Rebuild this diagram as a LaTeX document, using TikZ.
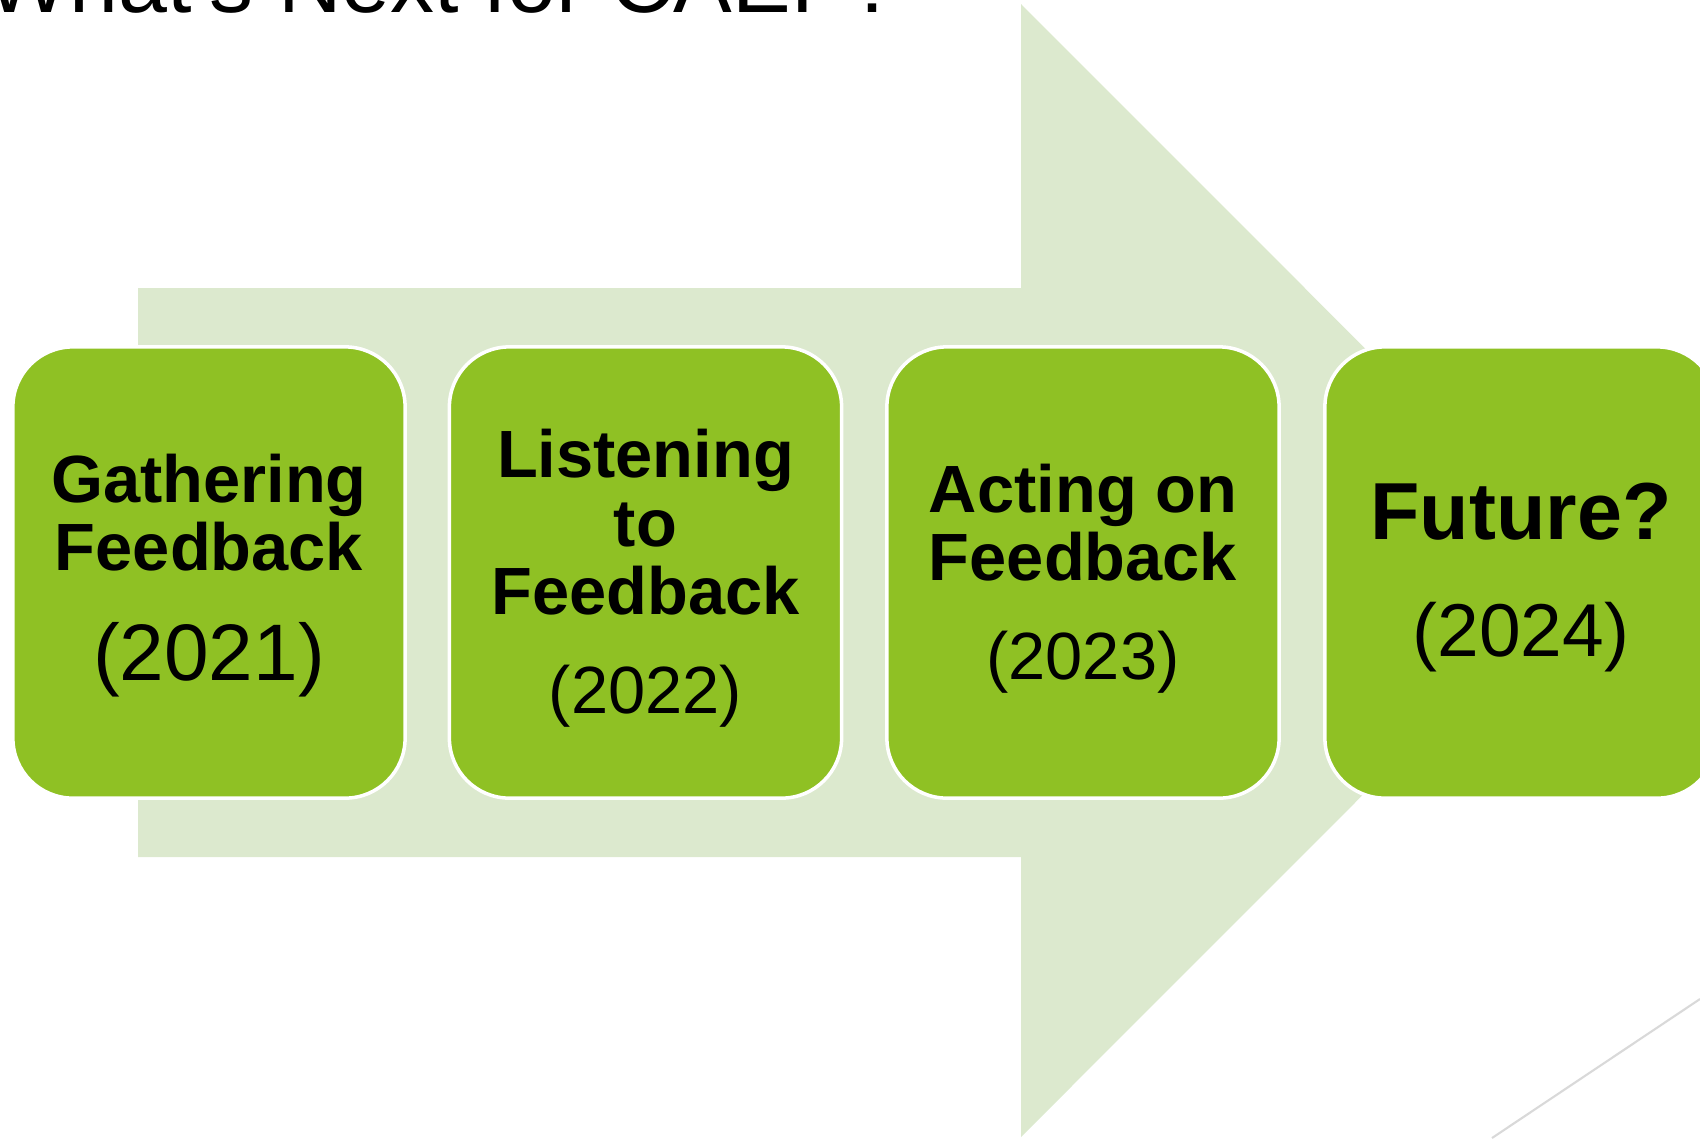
\documentclass[tikz,border=0pt]{standalone}
\usepackage{fontspec}
\setmainfont{Liberation Sans}
\definecolor{arrowgreen}{RGB}{220,233,206}
\definecolor{boxgreen}{RGB}{143,193,36}
\definecolor{rulegray}{RGB}{217,217,217}
\tikzset{
  stagebox/.style={rectangle, rounded corners=0.6cm, draw=white, line width=1pt, fill=boxgreen, minimum width=3.92cm, minimum height=4.51cm, inner sep=0pt},
  stagetext/.style={align=center, inner sep=0pt, anchor=south, font=\fontsize{19}{19.5}\selectfont\bfseries},
  yeartext/.style={inner sep=0pt, anchor=base},
}
\begin{document}
\begin{tikzpicture}[x=0.01cm, y=-0.01cm]
\useasboundingbox (0,0) rectangle (1700,1138);
\clip (0,0) rectangle (1700,1138);

% big background arrow
\fill[arrowgreen] (138,288) -- (1021,288) -- (1021,4) -- (1587,570.5) -- (1021,1137) -- (1021,857) -- (138,857) -- cycle;

% heading, cut off at the top
\node[anchor=base west, inner sep=0pt, font=\fontsize{25}{30}\selectfont] (heading) at (-14,12) {What's Next for CAEP?};

% stages
\node[stagebox] (gather) at (209,572.5) {};
\node[stagebox] (listen) at (645.5,572.5) {};
\node[stagebox] (act) at (1083,572.5) {};
\node[stagebox] (future) at (1521,572.5) {};

\node[stagetext] (gatherT) at (209,572) {Gathering\\Feedback};
\node[yeartext, font=\fontsize{22.8}{27}\selectfont] (gatherY) at (209,680) {(2021)};

\node[stagetext] (listenT) at (645.5,616) {Listening\\to\\Feedback};
\node[yeartext, font=\fontsize{19}{23}\selectfont] (listenY) at (645.5,713) {(2022)};

\node[stagetext] (actT) at (1083,582) {Acting on\\Feedback};
\node[yeartext, font=\fontsize{19}{23}\selectfont] (actY) at (1083,679) {(2023)};

\node[yeartext, font=\fontsize{23}{27}\selectfont\bfseries] (futureT) at (1521,539) {Future?};
\node[yeartext, font=\fontsize{21.3}{25}\selectfont] (futureY) at (1521,656) {(2024)};

% thin rule in the corner
\draw[rulegray, line width=0.6pt] (1492,1138) -- (1700,999);
\end{tikzpicture}
\end{document}
